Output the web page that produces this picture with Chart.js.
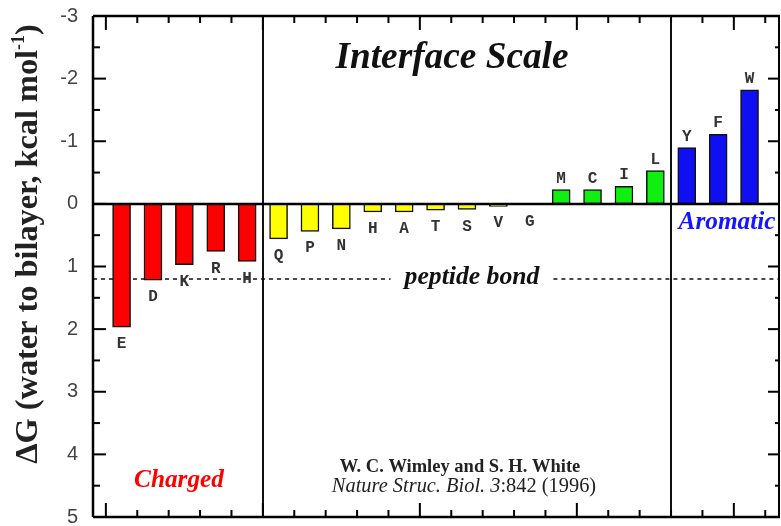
<!DOCTYPE html>
<html lang="en">
<head>
<meta charset="UTF-8">
<title>Interface Scale</title>
<style>
  body { margin: 0; background: #fff; }
  #wrap { position: relative; width: 781px; height: 526px; }
</style>
</head>
<body>
<div id="wrap"><canvas id="scaleChart"></canvas></div>
<script src="https://cdn.jsdelivr.net/npm/chart.js"></script>
<script>
// Wimley-White interface scale (kcal/mol)
const residues = ['E', 'D', 'K', 'R', 'H', 'Q', 'P', 'N', 'H', 'A', 'T', 'S', 'V', 'G', 'M', 'C', 'I', 'L', 'Y', 'F', 'W'];
const dG = [1.97, 1.22, 0.97, 0.76, 0.92, 0.56, 0.44, 0.40, 0.13, 0.13, 0.10, 0.09, 0.04, 0.01, -0.23, -0.23, -0.28, -0.53, -0.90, -1.11, -1.82];
const groups = ['charged', 'charged', 'charged', 'charged', 'charged',
    'polar', 'polar', 'polar', 'polar', 'polar', 'polar', 'polar', 'polar', 'polar',
    'apolar', 'apolar', 'apolar', 'apolar',
    'aromatic', 'aromatic', 'aromatic'];
const groupColors = { charged: '#ff0000', polar: '#ffff00', apolar: '#11ee11', aromatic: '#0f0ff2' };
const yTickValues = [-3, -2, -1, 0, 1, 2, 3, 4, 5];
const peptideBond = 1.2;
const dividers = [4.5, 17.5];

function line(ctx, x1, y1, x2, y2) {
    ctx.beginPath();
    ctx.moveTo(x1, y1);
    ctx.lineTo(x2, y2);
    ctx.stroke();
}

// pick a font size so the text spans about the given width
function fitFont(ctx, text, style, family, width) {
    ctx.font = `${style} 20px ${family}`;
    const size = 20 * width / ctx.measureText(text).width;
    return `${style} ${size.toFixed(1)}px ${family}`;
}

function drawText(ctx, text, cx, baseY, style, family, width, color) {
    ctx.font = fitFont(ctx, text, style, family, width);
    ctx.fillStyle = color;
    ctx.textAlign = 'center';
    ctx.textBaseline = 'alphabetic';
    ctx.fillText(text, cx, baseY);
}

const serif = '"Liberation Serif", serif';

const decor = {
    id: 'decor',
    beforeDatasetsDraw(chart) {
        const { ctx, chartArea: a, scales: { x, y } } = chart;
        ctx.save();
        ctx.strokeStyle = '#111';
        ctx.lineWidth = 2;
        dividers.forEach(v => {
            const px = Math.round(x.getPixelForValue(v));
            line(ctx, px, a.top, px, a.bottom);
        });

        // peptide bond line with its label in a gap
        const py = y.getPixelForValue(peptideBond);
        const label = 'peptide bond';
        const cx = 472;
        ctx.font = fitFont(ctx, label, 'italic bold', serif, 135);
        const half = ctx.measureText(label).width / 2;
        ctx.setLineDash([4, 4]);
        ctx.lineWidth = 1.5;
        ctx.strokeStyle = '#111';
        line(ctx, a.left, py, cx - half - 14, py);
        line(ctx, cx + half + 14, py, a.right, py);
        ctx.setLineDash([]);
        ctx.fillStyle = '#111';
        ctx.textAlign = 'center';
        ctx.fillText(label, cx, py + 5);
        ctx.restore();
    },
    afterDatasetsDraw(chart) {
        const { ctx, chartArea: a, scales: { x, y } } = chart;
        ctx.save();
        ctx.strokeStyle = '#000';

        // zero line
        ctx.lineWidth = 2.5;
        const y0 = y.getPixelForValue(0);
        line(ctx, a.left, y0, a.right, y0);

        // frame
        line(ctx, a.left, a.top, a.right, a.top);
        line(ctx, a.left, a.top, a.left, a.bottom);
        line(ctx, a.left, a.bottom, a.right, a.bottom);
        ctx.lineWidth = 2;
        line(ctx, a.right - 1, a.top, a.right - 1, a.bottom);

        // inward ticks on y
        ctx.lineWidth = 2;
        for (let v = -3; v <= 5; v += 0.5) {
            const py = y.getPixelForValue(v);
            const major = Number.isInteger(v);
            line(ctx, a.left, py, a.left + (major ? 13 : 7), py);
            line(ctx, a.right, py, a.right - (major ? 12 : 5), py);
        }
        // inward ticks on x, between categories
        for (let i = 0; i <= residues.length; i++) {
            const v = i - 0.5;
            const px = x.getPixelForValue(v);
            const major = i % 5 === 0;
            line(ctx, px, a.top, px, a.top + (major ? 14 : 7));
            line(ctx, px, a.bottom, px, a.bottom - (major ? 14 : 7));
        }

        // residue letters at the bar ends
        ctx.font = 'bold 16px "Liberation Mono", monospace';
        ctx.fillStyle = '#333';
        ctx.textAlign = 'center';
        ctx.textBaseline = 'middle';
        const meta = chart.getDatasetMeta(0);
        meta.data.forEach((bar, i) => {
            const off = dG[i] >= 0 ? 17 : -11;
            ctx.fillText(residues[i], bar.x, bar.y + off);
        });

        // annotations
        drawText(ctx, 'Interface Scale', 452, 68, 'italic bold', serif, 233, '#111');
        drawText(ctx, 'Charged', 179, 487, 'italic bold', serif, 90, '#ff0000');
        drawText(ctx, 'Aromatic', 727, 229, 'italic bold', serif, 97, '#1515ff');
        drawText(ctx, 'W. C. Wimley and S. H. White', 460, 472, 'bold', serif, 240, '#222');

        // citation second line: journal in italics, rest upright
        const jPart = 'Nature Struc. Biol. 3';
        const rPart = ':842 (1996)';
        const fj = fitFont(ctx, jPart + rPart, 'italic', serif, 265);
        const size = parseFloat(fj.split(' ')[1]);
        ctx.font = `italic ${size}px ${serif}`;
        const wj = ctx.measureText(jPart).width;
        ctx.font = `${size}px ${serif}`;
        const wr = ctx.measureText(rPart).width;
        const left = 464 - (wj + wr) / 2;
        ctx.fillStyle = '#222';
        ctx.textAlign = 'left';
        ctx.textBaseline = 'alphabetic';
        ctx.font = `italic ${size}px ${serif}`;
        ctx.fillText(jPart, left, 492);
        ctx.font = `${size}px ${serif}`;
        ctx.fillText(rPart, left + wj, 492);

        // y axis title, with a small raised -1
        const title = 'ΔG (water to bilayer, kcal mol';
        const sup = '-1';
        ctx.translate(29, 244);
        ctx.rotate(-Math.PI / 2);
        const tFont = fitFont(ctx, title + ')', 'bold', serif, 425);
        const tSize = parseFloat(tFont.split(' ')[1]);
        const supFont = `bold ${(tSize * 0.55).toFixed(1)}px ${serif}`;
        ctx.font = tFont;
        const wt = ctx.measureText(title).width;
        const wp = ctx.measureText(')').width;
        ctx.font = supFont;
        const ws = ctx.measureText(sup).width;
        let tx = -(wt + ws + wp) / 2;
        ctx.fillStyle = '#222';
        ctx.textAlign = 'left';
        ctx.textBaseline = 'middle';
        ctx.font = tFont;
        ctx.fillText(title, tx, 0);
        tx += wt;
        ctx.font = supFont;
        ctx.fillText(sup, tx, -tSize * 0.3);
        tx += ws;
        ctx.font = tFont;
        ctx.fillText(')', tx, 0);
        ctx.restore();
    }
};

const points = dG.map((v, i) => ({ x: i, y: v }));

new Chart(document.getElementById('scaleChart'), {
    type: 'bar',
    data: {
        datasets: [{
            data: points,
            backgroundColor: groups.map(g => groupColors[g]),
            borderColor: '#111',
            borderWidth: 1.5,
            borderSkipped: false,
            barThickness: 18
        }]
    },
    options: {
        responsive: true,
        maintainAspectRatio: false,
        animation: false,
        layout: { padding: { left: 0, top: 16, right: 1, bottom: 9 } },
        plugins: { legend: { display: false }, tooltip: { enabled: false } },
        scales: {
            x: {
                type: 'linear',
                offset: false,
                min: -0.91,
                max: 20.97,
                display: false
            },
            y: {
                reverse: true,
                min: -3,
                max: 5,
                afterFit: s => {
                    s.width = 93;
                    s.paddingTop = 0;
                    s.paddingBottom = 0;
                },
                afterBuildTicks: s => { s.ticks = yTickValues.map(v => ({ value: v })); },
                grid: { display: false, drawTicks: false },
                border: { display: false },
                ticks: {
                    padding: 15,
                    color: '#444',
                    font: { family: '"Liberation Sans", sans-serif', size: 20 }
                }
            }
        }
    },
    plugins: [decor]
});
</script>
</body>
</html>
